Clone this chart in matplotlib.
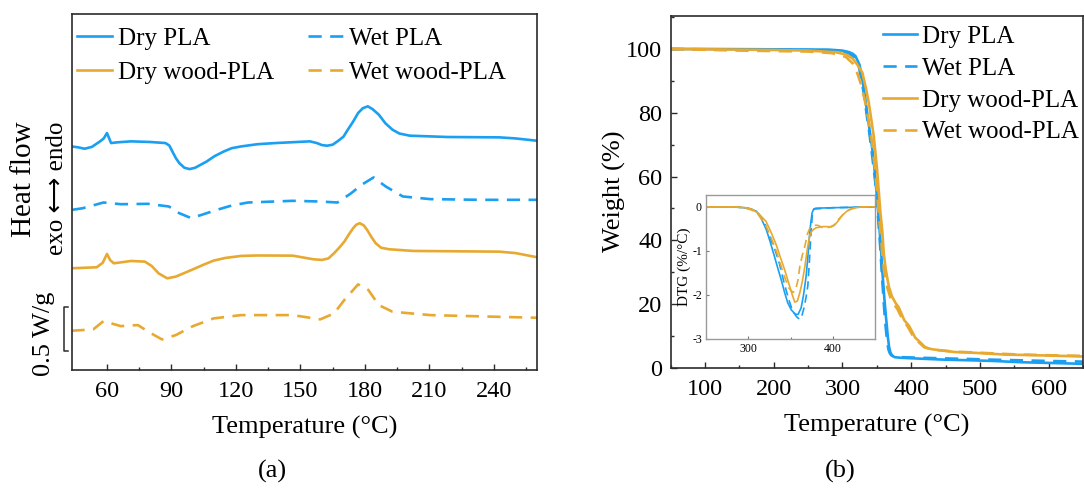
import matplotlib
matplotlib.use("Agg")
import matplotlib.pyplot as plt
from matplotlib.ticker import MultipleLocator, FixedLocator, NullLocator
from matplotlib.transforms import blended_transform_factory

plt.rcParams['font.family'] = ['Liberation Serif', 'DejaVu Serif', 'DejaVu Sans']
plt.rcParams['axes.unicode_minus'] = False

BLUE = '#1A9FF2'
ORANGE = '#E8A931'
SPINE = '#2b2b2b'

# ---------------- DSC curves (heat flow, W/g, stacked with offsets) ----------------
dsc_dry_pla_T = [43.5, 46.5, 49.6, 53.0, 56.8, 58.5, 60.0, 61.9, 64.8, 71.2, 80.0, 87.2, 89.0,
                 90.4, 92.0, 93.6, 96.0, 98.4, 101.0, 106.4, 110.0, 114.4, 118.0, 122.4, 130.0,
                 138.4, 154.4, 157.6, 160.0, 162.4, 165.0, 167.2, 170.0, 172.0, 174.5, 176.8,
                 179.0, 181.3, 183.5, 186.4, 189.5, 192.8, 196.0, 200.8, 218.4, 242.4, 250.0,
                 260.0]
dsc_dry_pla = [2.510, 2.500, 2.484, 2.505, 2.567, 2.600, 2.661, 2.548, 2.556, 2.567, 2.560,
               2.548, 2.520, 2.454, 2.380, 2.323, 2.270, 2.255, 2.270, 2.341, 2.400, 2.454,
               2.490, 2.510, 2.535, 2.548, 2.567, 2.548, 2.525, 2.518, 2.530, 2.567, 2.620,
               2.698, 2.790, 2.886, 2.940, 2.961, 2.930, 2.868, 2.770, 2.698, 2.655, 2.631,
               2.616, 2.612, 2.600, 2.574]

dsc_wet_pla_T = [44.0, 48.8, 58.4, 66.4, 79.2, 88.8, 93.6, 99.2, 104.0, 111.2, 118.0, 125.6,
                 146.4, 159.2, 167.2, 173.6, 178.4, 184.0, 189.6, 197.6, 210.4, 234.4, 260.0]
dsc_wet_pla = [1.797, 1.815, 1.879, 1.860, 1.864, 1.834, 1.759, 1.703, 1.740, 1.797, 1.845,
               1.879, 1.898, 1.890, 1.879, 1.984, 2.078, 2.161, 2.060, 1.947, 1.917, 1.909,
               1.909]

dsc_dry_wood_T = [43.5, 55.2, 58.0, 60.0, 61.5, 63.2, 71.2, 77.6, 80.8, 84.0, 88.0, 92.0,
                  100.0, 105.0, 109.6, 115.0, 122.4, 130.0, 146.4, 156.0, 160.0, 163.0, 165.6,
                  168.0, 170.4, 172.5, 174.5, 176.0, 177.6, 179.5, 181.0, 183.0, 185.0, 187.5,
                  191.2, 202.4, 242.4, 250.0, 260.0]
dsc_dry_wood = [1.139, 1.150, 1.200, 1.300, 1.230, 1.195, 1.221, 1.214, 1.165, 1.082, 1.026,
                1.045, 1.127, 1.180, 1.225, 1.255, 1.278, 1.283, 1.281, 1.240, 1.233, 1.250,
                1.308, 1.370, 1.439, 1.520, 1.590, 1.630, 1.646, 1.620, 1.570, 1.490, 1.420,
                1.370, 1.353, 1.334, 1.326, 1.310, 1.263]

dsc_wet_wood_T = [43.5, 53.6, 58.4, 66.4, 74.4, 79.2, 85.6, 92.0, 100.0, 109.6, 122.4, 146.4,
                  159.2, 165.6, 170.4, 176.8, 181.6, 186.4, 192.8, 210.4, 260.0]
dsc_wet_wood = [0.436, 0.451, 0.545, 0.488, 0.500, 0.425, 0.338, 0.387, 0.488, 0.575, 0.612,
                0.612, 0.564, 0.631, 0.782, 0.958, 0.894, 0.725, 0.650, 0.612, 0.582]

scale_bar = (0.206, 0.706)   # 0.5 W/g

# ---------------- TGA curves (weight %) ----------------
tga_dry_pla_T = [50, 100, 200, 280, 300, 310, 315, 319, 325, 329, 333, 336, 340, 343, 346, 348,
                 351, 353, 356, 358, 361, 363, 366, 368, 370, 372.4, 376, 385, 416, 450, 489,
                 520, 561, 600, 650]
tga_dry_pla = [100, 100, 99.9, 99.8, 99.5, 99.0, 98.5, 97.8, 95.0, 90.5, 85.0, 80.0, 74.0, 69.5,
               64.0, 59.0, 52.0, 46.4, 38.0, 30.7, 22.0, 17.0, 10.0, 6.5, 4.8, 3.9, 3.4, 3.2,
               2.9, 2.6, 2.4, 2.2, 1.8, 1.6, 1.3]

tga_wet_pla_T = [50, 100, 200, 280, 300, 310, 318, 324, 328, 332, 335, 339, 342, 345, 348, 350,
                 352, 355, 357, 360, 362, 365, 367, 369, 371, 375, 385, 416, 450, 489, 520, 561,
                 600, 650]
tga_wet_pla = [100, 99.9, 99.8, 99.6, 99.2, 98.6, 97.2, 94.5, 90.0, 85.0, 80.0, 74.0, 69.0, 63.5,
               58.0, 53.0, 47.0, 38.0, 31.0, 21.0, 15.0, 8.5, 5.8, 4.6, 4.0, 3.6, 3.4, 3.2,
               3.0, 2.8, 2.6, 2.4, 2.2, 2.0]

tga_dry_wood_T = [50, 100, 200, 250, 290, 305, 315, 322, 329, 334, 338.4, 342, 345.7, 350.5,
                  355.4, 357.9, 360.2, 363, 367.6, 372, 377, 382, 390, 397, 406, 411, 421, 430,
                  440, 464, 489, 537, 561, 600, 650]
tga_dry_wood = [100, 99.9, 99.7, 99.5, 99.0, 98.3, 97.0, 95.0, 92.6, 88.0, 83.2, 78.0, 72.6, 62.2,
                48.5, 43.3, 35.9, 31.0, 25.5, 22.5, 20.5, 19.0, 15.0, 13.2, 9.5, 8.5, 6.4, 5.9,
                5.6, 5.0, 4.8, 4.2, 4.1, 3.9, 3.6]

tga_wet_wood_T = [50, 150, 250, 285, 305, 315, 320, 327, 332, 336.4, 340, 343.7, 348.5, 353.4,
                  356, 358.2, 361, 365.6, 370, 375, 380, 388, 395, 404, 409, 419, 428, 440, 464,
                  489, 537, 561, 600, 650]
tga_wet_wood = [100, 99.5, 99.2, 98.7, 97.5, 95.5, 93.5, 89.0, 84.5, 80.0, 75.0, 70.0, 60.0, 47.0,
                42.0, 35.0, 30.0, 25.0, 22.0, 20.0, 18.5, 15.0, 13.0, 9.5, 8.5, 6.5, 6.0, 5.6,
                5.1, 4.9, 4.4, 4.2, 4.0, 3.8]

# ---------------- DTG inset curves (%/°C) ----------------
dtg_dry_pla_T = [250, 280, 295, 303, 309.6, 315, 321.4, 326, 331, 335, 339, 343, 346.8, 351,
                 355.9, 359, 362.6, 365.5, 368.5, 370.5, 372, 373.8, 375.5, 377.5, 380, 400, 450]
dtg_dry_pla = [0, 0, -0.02, -0.05, -0.10, -0.25, -0.52, -0.80, -1.13, -1.40, -1.66, -1.95, -2.19,
               -2.35, -2.45, -2.45, -2.30, -2.00, -1.58, -1.15, -0.75, -0.40, -0.14, -0.05,
               -0.03, -0.02, 0]

dtg_wet_pla_T = [250, 285, 300, 310, 318, 325, 332, 337, 342, 347, 352, 357, 360.6, 363, 366,
                 368.5, 370.5, 372.5, 374.5, 376, 378, 400, 450]
dtg_wet_pla = [0, 0, -0.03, -0.10, -0.30, -0.65, -1.00, -1.30, -1.70, -2.05, -2.35, -2.50, -2.56,
               -2.52, -2.30, -2.05, -1.80, -1.20, -0.52, -0.15, -0.05, -0.02, 0]

dtg_dry_wood_T = [250, 285, 297.8, 305, 312, 321, 327, 333, 338, 343, 349, 352, 355, 358, 361,
                  364, 367, 370, 373, 375, 377, 380, 385, 388.6, 393, 398, 402, 406, 411, 416,
                  421, 427, 435, 450]
dtg_dry_wood = [0, 0, -0.02, -0.06, -0.15, -0.33, -0.58, -0.86, -1.15, -1.43, -1.81, -2.00,
                -2.17, -2.15, -1.96, -1.70, -1.36, -0.95, -0.64, -0.56, -0.52, -0.48, -0.46,
                -0.45, -0.45, -0.46, -0.42, -0.33, -0.20, -0.11, -0.05, -0.02, 0, 0]

dtg_wet_wood_T = [250, 285, 297, 305, 312, 320, 327, 333, 338, 343, 348, 353, 356, 359, 361,
                  364, 367, 370, 373, 377, 382, 388, 395, 401, 406, 412, 418, 425, 432, 450]
dtg_wet_wood = [0, 0, -0.03, -0.08, -0.18, -0.40, -0.70, -1.00, -1.30, -1.60, -1.85, -1.95,
                -1.90, -1.65, -1.36, -1.10, -0.90, -0.62, -0.48, -0.42, -0.42, -0.47, -0.47,
                -0.42, -0.30, -0.18, -0.08, -0.03, 0, 0]

labels = ['Dry PLA', 'Wet PLA', 'Dry wood-PLA', 'Wet wood-PLA']

W, H = 1084, 493
fig = plt.figure(figsize=(W / 100, H / 100), dpi=100)


def px_axes(left, top, right, bottom):
    return fig.add_axes([left / W, 1 - bottom / H, (right - left) / W, (bottom - top) / H])


def style_frame(ax, color=SPINE, lw=1.2):
    for s in ax.spines.values():
        s.set_color(color)
        s.set_linewidth(lw)


LW = 1.9
DASH = (5.0, 3.2)

# ---------------- (a) DSC ----------------
axa = px_axes(71.5, 14, 537, 369.5)
style_frame(axa)
la1, = axa.plot(dsc_dry_pla_T, dsc_dry_pla, color=BLUE, lw=LW, solid_joinstyle='round')
la2, = axa.plot(dsc_wet_pla_T, dsc_wet_pla, color=BLUE, lw=LW, ls=(0, DASH))
la3, = axa.plot(dsc_dry_wood_T, dsc_dry_wood, color=ORANGE, lw=LW, solid_joinstyle='round')
la4, = axa.plot(dsc_wet_wood_T, dsc_wet_wood, color=ORANGE, lw=LW, ls=(0, DASH))
axa.set_xlim(43.5, 260)
axa.set_ylim(0, 4.0)
axa.xaxis.set_major_locator(FixedLocator([60, 90, 120, 150, 180, 210, 240]))
axa.xaxis.set_minor_locator(FixedLocator([75, 105, 135, 165, 195, 225, 255]))
axa.yaxis.set_major_locator(NullLocator())
axa.tick_params(axis='x', which='major', direction='in', length=4.5, width=1.0,
                labelsize=17.5, pad=8, color=SPINE)
axa.tick_params(axis='x', which='minor', direction='in', length=2.5, width=1.0, color=SPINE)
axa.set_xlabel('Temperature (°C)', fontsize=19, labelpad=10)
axa.legend([la1, la3, la2, la4], [labels[0], labels[2], labels[1], labels[3]], ncol=2,
           frameon=False, fontsize=18, loc='upper left', bbox_to_anchor=(0.012, 0.962),
           borderpad=0, borderaxespad=0, handlelength=1.4, handletextpad=0.25,
           columnspacing=1.35, labelspacing=0.46)

# scale bar for 0.5 W/g, just outside the left spine
tr = blended_transform_factory(axa.transAxes, axa.transData)
xb, xt = -0.017, -0.0075
axa.plot([xt, xb, xb, xt], [scale_bar[0], scale_bar[0], scale_bar[1], scale_bar[1]],
         color=SPINE, lw=1.1, transform=tr, clip_on=False)
fig.text(44 / W, 1 - 334 / H, '0.5 W/g', rotation=90, ha='center', va='center', fontsize=19)
fig.text(24 / W, 1 - 179 / H, 'Heat flow', rotation=90, ha='center', va='center', fontsize=21)
fig.text(57 / W, 1 - 188 / H, 'exo \u27f7 endo', rotation=90, ha='center', va='center',
         fontsize=18, family=['Liberation Serif', 'DejaVu Sans'])

# ---------------- (b) TGA ----------------
axb = px_axes(670.5, 15.5, 1083, 368)
style_frame(axb)
lb1, = axb.plot(tga_dry_pla_T, tga_dry_pla, color=BLUE, lw=LW)
lb2, = axb.plot(tga_wet_pla_T, tga_wet_pla, color=BLUE, lw=LW, ls=(0, DASH))
lb3, = axb.plot(tga_dry_wood_T, tga_dry_wood, color=ORANGE, lw=LW)
lb4, = axb.plot(tga_wet_wood_T, tga_wet_wood, color=ORANGE, lw=LW, ls=(0, DASH))
axb.set_xlim(50, 650)
axb.set_ylim(0, 110.5)
axb.xaxis.set_major_locator(MultipleLocator(100))
axb.xaxis.set_minor_locator(MultipleLocator(50))
axb.yaxis.set_major_locator(MultipleLocator(20))
axb.yaxis.set_minor_locator(MultipleLocator(10))
axb.tick_params(which='major', direction='in', length=4.5, width=1.0, labelsize=17.5, pad=6,
                color=SPINE)
axb.tick_params(axis='x', which='major', pad=8)
axb.tick_params(which='minor', direction='in', length=2.5, width=1.0, color=SPINE)
axb.set_xlabel('Temperature (°C)', fontsize=19, labelpad=10)
axb.set_ylabel('Weight (%)', fontsize=19, labelpad=0)
axb.legend([lb1, lb2, lb3, lb4], labels, frameon=False, fontsize=18, loc='upper left',
           bbox_to_anchor=(0.516, 0.971), borderpad=0, borderaxespad=0, handlelength=1.35,
           handletextpad=0.2, labelspacing=0.37)

# ---------------- DTG inset ----------------
axi = px_axes(706, 195, 875, 338.5)
style_frame(axi, color='#9a9a9a', lw=1.0)
ILW = 1.2
IDASH = (5.0, 3.0)
axi.plot(dtg_dry_pla_T, dtg_dry_pla, color=BLUE, lw=ILW)
axi.plot(dtg_wet_pla_T, dtg_wet_pla, color=BLUE, lw=ILW, ls=(0, IDASH))
axi.plot(dtg_dry_wood_T, dtg_dry_wood, color=ORANGE, lw=ILW)
axi.plot(dtg_wet_wood_T, dtg_wet_wood, color=ORANGE, lw=ILW, ls=(0, IDASH))
axi.set_xlim(250, 450)
axi.set_ylim(-3, 0.27)
axi.xaxis.set_major_locator(FixedLocator([300, 400]))
axi.xaxis.set_minor_locator(FixedLocator([350]))
axi.yaxis.set_major_locator(FixedLocator([0, -1, -2, -3]))
axi.tick_params(which='major', direction='in', length=2.5, width=0.8, labelsize=8.5, pad=3,
                color='#777777')
axi.tick_params(which='minor', direction='in', length=1.8, width=0.8, color='#777777')
axi.set_ylabel('DTG (%/°C)', fontsize=11, labelpad=1)

fig.text(272 / W, 1 - 471 / H, '(a)', ha='center', va='center', fontsize=19)
fig.text(840 / W, 1 - 471 / H, '(b)', ha='center', va='center', fontsize=19)

fig.savefig('out.png', dpi=100)
